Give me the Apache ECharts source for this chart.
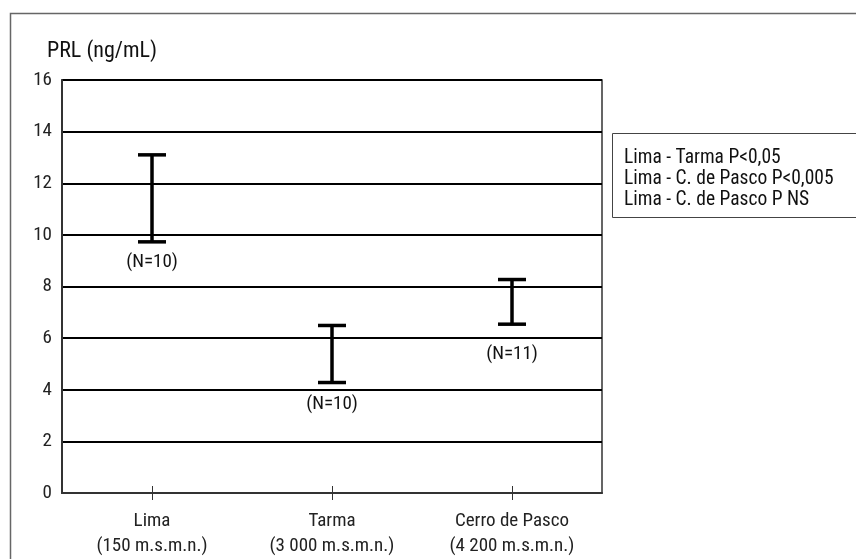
<!DOCTYPE html>
<html>
<head>
<meta charset="utf-8">
<script src="https://cdn.jsdelivr.net/npm/echarts@6/dist/echarts.min.js"></script>
<style>
  html, body { margin: 0; padding: 0; background: #fff; }
  #chart { width: 856px; height: 559px; }
</style>
</head>
<body>
<div id="chart"></div>
<script>
// PRL range per altitude site
const categories = ['Lima\n(150 m.s.m.n.)', 'Tarma\n(3 000 m.s.m.n.)', 'Cerro de Pasco\n(4 200 m.s.m.n.)'];
const lowValues = [9.73, 4.28, 6.54];
const highValues = [13.1, 6.49, 8.27];
const groupSizes = ['(N=10)', '(N=10)', '(N=11)'];
const yTicks = { min: 0, max: 16, interval: 2 };
const yTitle = 'PRL (ng/mL)';
const notes = [
  'Lima - Tarma P<0,05',
  'Lima - C. de Pasco P<0,005',
  'Lima - C. de Pasco P NS'
];

// distance (px) of each N label below the lower cap, kept clear of grid lines
const nLabelGap = [20, 22, 30];

const FONT = "'Liberation Sans Narrow', 'Roboto Condensed', 'DejaVu Sans Condensed', 'Roboto', sans-serif";

const rangeData = categories.map((c, i) => [i, lowValues[i], highValues[i], groupSizes[i]]);

const chart = echarts.init(document.getElementById('chart'), null, { renderer: 'canvas' });

chart.setOption({
  animation: false,
  backgroundColor: '#fff',
  textStyle: { fontFamily: FONT },
  grid: { left: 62, right: 254, top: 80, bottom: 63, show: true, borderColor: '#333', borderWidth: 1.5 },
  xAxis: [{
    type: 'category',
    data: categories,
    boundaryGap: true,
    axisLine: { show: true, lineStyle: { color: '#333', width: 2 } },
    axisTick: { show: true, alignWithLabel: true, length: 7, lineStyle: { color: '#333', width: 1 } },
    axisLabel: { show: true, color: '#222', fontFamily: FONT, fontSize: 19, lineHeight: 25, margin: 16 }
  }, {
    type: 'category',
    data: categories,
    position: 'bottom',
    boundaryGap: true,
    axisLine: { show: false },
    axisTick: { show: true, inside: true, alignWithLabel: true, length: 7, lineStyle: { color: '#333', width: 1 } },
    axisLabel: { show: false }
  }],
  yAxis: {
    type: 'value',
    min: yTicks.min,
    max: yTicks.max,
    interval: yTicks.interval,
    axisLine: { show: true, lineStyle: { color: '#333', width: 2 } },
    axisTick: { show: false },
    axisLabel: { color: '#222', fontFamily: FONT, fontSize: 19, margin: 10 },
    splitLine: { show: true, lineStyle: { color: '#000', width: 2 } }
  },
  graphic: [
    {
      type: 'rect',
      shape: { x: 10.5, y: 13.5, width: 900, height: 600 },
      style: { fill: 'none', stroke: '#666', lineWidth: 1.5 },
      silent: true, z: -10
    },
    {
      type: 'text',
      left: 47, top: 40,
      style: { text: yTitle, fill: '#111', font: '22px ' + FONT }
    },
    {
      type: 'group',
      left: 612, top: 133,
      children: [
        {
          type: 'rect',
          shape: { x: 0.5, y: 0.5, width: 260, height: 84 },
          style: { fill: '#fff', stroke: '#444', lineWidth: 1 }
        },
        {
          type: 'text',
          x: 12, y: 15,
          style: { text: notes.join('\n'), fill: '#111', font: '19.5px ' + FONT, lineHeight: 21 }
        }
      ]
    }
  ],
  series: [{
    type: 'custom',
    xAxisIndex: 0,
    data: rangeData,
    z: 10,
    renderItem: function (params, api) {
      const x = api.value(0);
      const lo = api.coord([x, api.value(1)]);
      const hi = api.coord([x, api.value(2)]);
      const half = 14;
      const style = { stroke: '#000', lineWidth: 3.5 };
      return {
        type: 'group',
        children: [
          { type: 'line', shape: { x1: lo[0], y1: lo[1], x2: hi[0], y2: hi[1] }, style: style },
          { type: 'line', shape: { x1: hi[0] - half, y1: hi[1], x2: hi[0] + half, y2: hi[1] }, style: style },
          { type: 'line', shape: { x1: lo[0] - half, y1: lo[1], x2: lo[0] + half, y2: lo[1] }, style: style },
          {
            type: 'text',
            x: lo[0], y: lo[1] + nLabelGap[params.dataIndex],
            style: { text: rangeData[params.dataIndex][3], fill: '#111', font: '19px ' + FONT, align: 'center', verticalAlign: 'middle' }
          }
        ]
      };
    }
  }]
});
</script>
</body>
</html>
